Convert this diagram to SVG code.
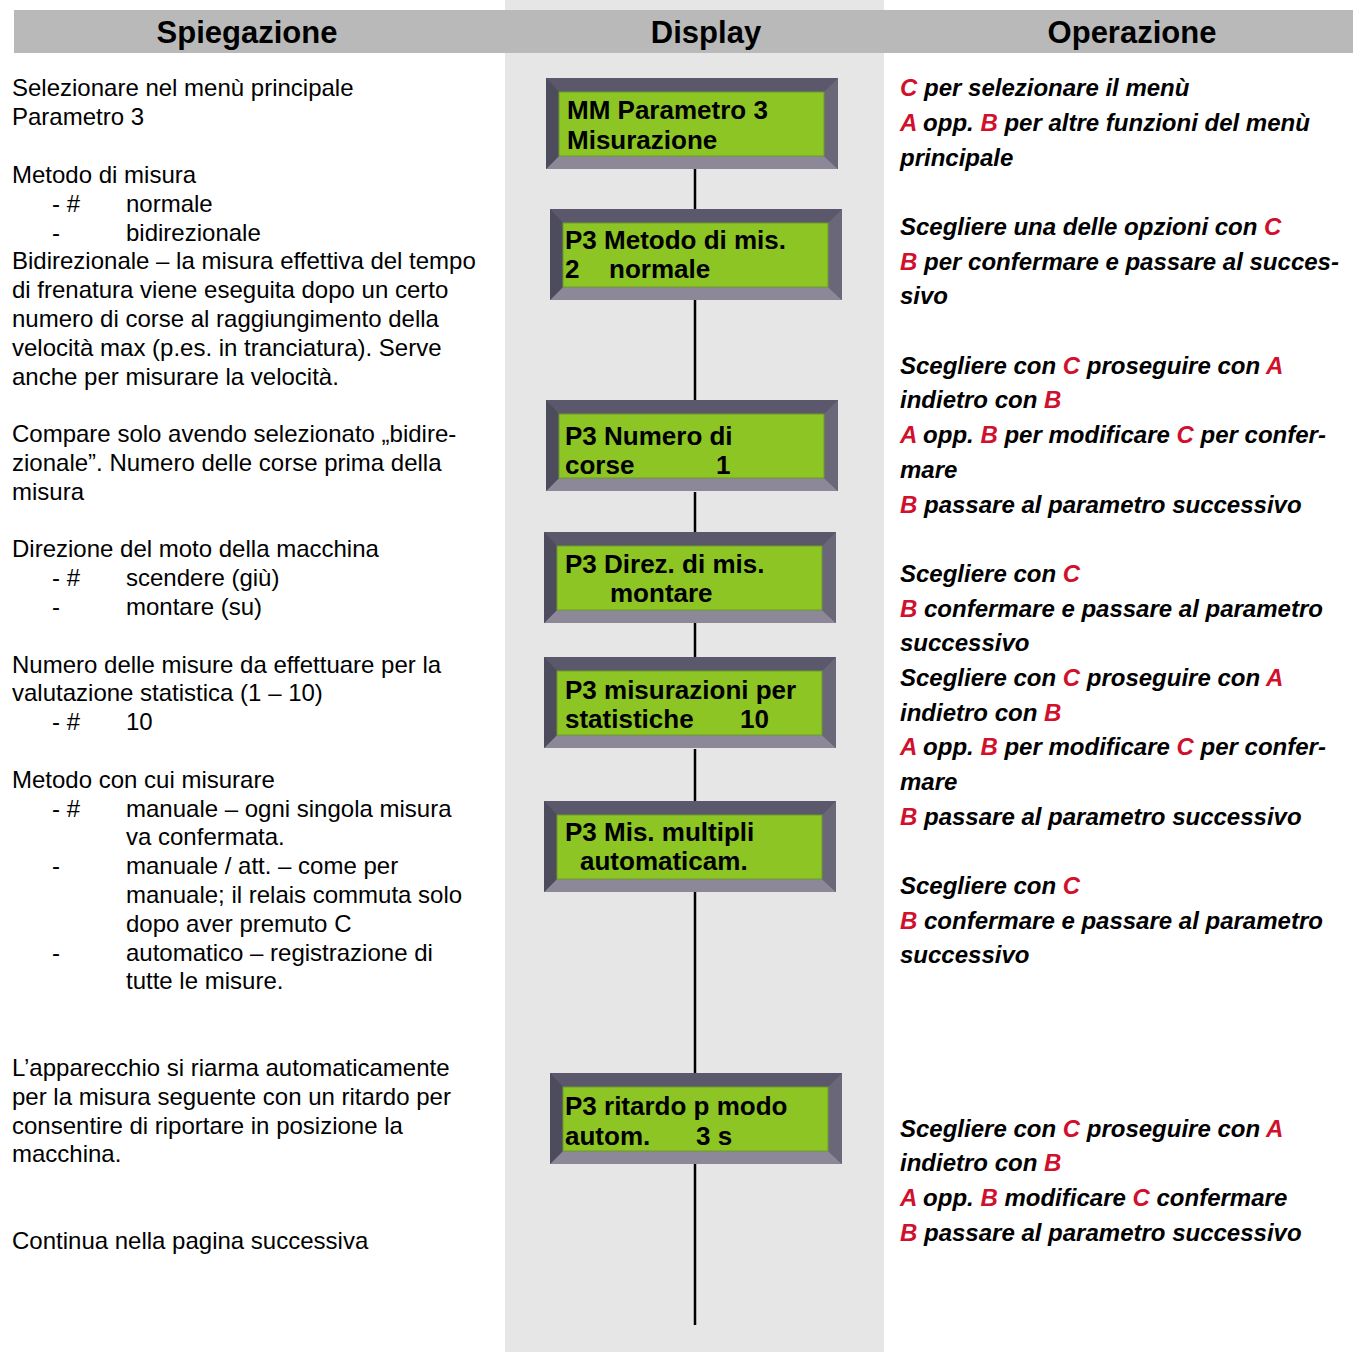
<svg xmlns="http://www.w3.org/2000/svg" xmlns:xlink="http://www.w3.org/1999/xlink" width="1353" height="1352" viewBox="0 0 1353 1352">
<style>
.hd{font-family:"Liberation Sans",Arial,sans-serif;font-weight:bold;font-size:31px;fill:#000;text-anchor:middle}
.l{font-family:"Liberation Sans",Arial,sans-serif;font-size:24px;fill:#000}
.r{font-family:"Liberation Sans",Arial,sans-serif;font-size:24px;font-weight:bold;font-style:italic;fill:#000}
.k{fill:#d0102c}
.d{font-family:"Liberation Sans",Arial,sans-serif;font-size:26px;font-weight:bold;fill:#000}
.cn{stroke:#000;stroke-width:2.5;fill:none}
</style>
<defs>
<g id="lcd">
<rect x="0" y="0" width="292" height="91" fill="#55536a"/>
<polygon points="0,0 292,0 278,14 13,14" fill="#5a586a"/>
<polygon points="0,91 292,91 278,78 13,78" fill="#8d8897"/>
<polygon points="0,0 13,14 13,78 0,91" fill="#4d4c5c"/>
<polygon points="292,0 278,14 278,78 292,91" fill="#6a6778"/>
<rect x="13" y="14" width="265" height="64" fill="#8cc524" stroke="#6f9a2a" stroke-width="1"/>
</g>
</defs>
<rect x="0" y="0" width="1353" height="1352" fill="#fff"/>
<rect x="505" y="0" width="379" height="1352" fill="#e6e6e6"/>
<rect x="14" y="10" width="1339" height="43" fill="#b9b9b9"/>
<text class="hd" x="247" y="43">Spiegazione</text>
<text class="hd" x="706" y="43">Display</text>
<text class="hd" x="1132" y="43">Operazione</text>

<g id="connectors">
<line class="cn" x1="695" y1="169" x2="695" y2="209"/>
<line class="cn" x1="695" y1="300" x2="695" y2="400"/>
<line class="cn" x1="695" y1="492" x2="695" y2="533"/>
<line class="cn" x1="695" y1="623" x2="695" y2="657"/>
<line class="cn" x1="695" y1="749" x2="695" y2="801"/>
<line class="cn" x1="695" y1="892" x2="695" y2="1073"/>
<line class="cn" x1="695" y1="1163" x2="695" y2="1325"/>
</g>

<g id="n1"><use xlink:href="#lcd" x="546" y="78"/>
<text class="d" x="567" y="119">MM Parametro 3</text>
<text class="d" x="567" y="149">Misurazione</text></g>
<g id="n2"><use xlink:href="#lcd" x="550" y="209"/>
<text class="d" x="565" y="249">P3 Metodo di mis.</text>
<text class="d" x="565" y="278">2</text><text class="d" x="609" y="278">normale</text></g>
<g id="n3"><use xlink:href="#lcd" x="546" y="400"/>
<text class="d" x="565" y="445">P3 Numero di</text>
<text class="d" x="565" y="474">corse</text><text class="d" x="716" y="474">1</text></g>
<g id="n4"><use xlink:href="#lcd" x="544" y="532"/>
<text class="d" x="565" y="573">P3 Direz. di mis.</text>
<text class="d" x="610" y="602">montare</text></g>
<g id="n5"><use xlink:href="#lcd" x="544" y="657"/>
<text class="d" x="565" y="699">P3 misurazioni per</text>
<text class="d" x="565" y="728">statistiche</text><text class="d" x="740" y="728">10</text></g>
<g id="n6"><use xlink:href="#lcd" x="544" y="801"/>
<text class="d" x="565" y="841">P3 Mis. multipli</text>
<text class="d" x="580" y="870">automaticam.</text></g>
<g id="n7"><use xlink:href="#lcd" x="550" y="1073"/>
<text class="d" x="565" y="1115">P3 ritardo p modo</text>
<text class="d" x="565" y="1145">autom.</text><text class="d" x="696" y="1145">3 s</text></g>

<g id="spiegazione">
<text class="l" x="12" y="96">Selezionare nel menù principale</text>
<text class="l" x="12" y="125">Parametro 3</text>
<text class="l" x="12" y="183">Metodo di misura</text>
<text class="l" x="52" y="212">- #</text><text class="l" x="126" y="212">normale</text>
<text class="l" x="52" y="241">-</text><text class="l" x="126" y="241">bidirezionale</text>
<text class="l" x="12" y="269">Bidirezionale – la misura effettiva del tempo</text>
<text class="l" x="12" y="298">di frenatura viene eseguita dopo un certo</text>
<text class="l" x="12" y="327">numero di corse al raggiungimento della</text>
<text class="l" x="12" y="356">velocità max (p.es. in tranciatura). Serve</text>
<text class="l" x="12" y="385">anche per misurare la velocità.</text>
<text class="l" x="12" y="442">Compare solo avendo selezionato „bidire-</text>
<text class="l" x="12" y="471">zionale”. Numero delle corse prima della</text>
<text class="l" x="12" y="500">misura</text>
<text class="l" x="12" y="557">Direzione del moto della macchina</text>
<text class="l" x="52" y="586">- #</text><text class="l" x="126" y="586">scendere (giù)</text>
<text class="l" x="52" y="615">-</text><text class="l" x="126" y="615">montare (su)</text>
<text class="l" x="12" y="673">Numero delle misure da effettuare per la</text>
<text class="l" x="12" y="701">valutazione statistica (1 – 10)</text>
<text class="l" x="52" y="730">- #</text><text class="l" x="126" y="730">10</text>
<text class="l" x="12" y="788">Metodo con cui misurare</text>
<text class="l" x="52" y="817">- #</text><text class="l" x="126" y="817">manuale – ogni singola misura</text>
<text class="l" x="126" y="845">va confermata.</text>
<text class="l" x="52" y="874">-</text><text class="l" x="126" y="874">manuale / att. – come per</text>
<text class="l" x="126" y="903">manuale; il relais commuta solo</text>
<text class="l" x="126" y="932">dopo aver premuto C</text>
<text class="l" x="52" y="961">-</text><text class="l" x="126" y="961">automatico – registrazione di</text>
<text class="l" x="126" y="989">tutte le misure.</text>
<text class="l" x="12" y="1076">L’apparecchio si riarma automaticamente</text>
<text class="l" x="12" y="1105">per la misura seguente con un ritardo per</text>
<text class="l" x="12" y="1134">consentire di riportare in posizione la</text>
<text class="l" x="12" y="1162">macchina.</text>
<text class="l" x="12" y="1249">Continua nella pagina successiva</text>
</g>

<g id="operazione">
<text class="r" x="900" y="96"><tspan class="k">C</tspan> per selezionare il menù</text>
<text class="r" x="900" y="131"><tspan class="k">A</tspan> opp. <tspan class="k">B</tspan> per altre funzioni del menù</text>
<text class="r" x="900" y="166">principale</text>
<text class="r" x="900" y="235">Scegliere una delle opzioni con <tspan class="k">C</tspan></text>
<text class="r" x="900" y="270"><tspan class="k">B</tspan> per confermare e passare al succes-</text>
<text class="r" x="900" y="304">sivo</text>
<text class="r" x="900" y="374">Scegliere con <tspan class="k">C</tspan> proseguire con <tspan class="k">A</tspan></text>
<text class="r" x="900" y="408">indietro con <tspan class="k">B</tspan></text>
<text class="r" x="900" y="443"><tspan class="k">A</tspan> opp. <tspan class="k">B</tspan> per modificare <tspan class="k">C</tspan> per confer-</text>
<text class="r" x="900" y="478">mare</text>
<text class="r" x="900" y="513"><tspan class="k">B</tspan> passare al parametro successivo</text>
<text class="r" x="900" y="582">Scegliere con <tspan class="k">C</tspan></text>
<text class="r" x="900" y="617"><tspan class="k">B</tspan> confermare e passare al parametro</text>
<text class="r" x="900" y="651">successivo</text>
<text class="r" x="900" y="686">Scegliere con <tspan class="k">C</tspan> proseguire con <tspan class="k">A</tspan></text>
<text class="r" x="900" y="721">indietro con <tspan class="k">B</tspan></text>
<text class="r" x="900" y="755"><tspan class="k">A</tspan> opp. <tspan class="k">B</tspan> per modificare <tspan class="k">C</tspan> per confer-</text>
<text class="r" x="900" y="790">mare</text>
<text class="r" x="900" y="825"><tspan class="k">B</tspan> passare al parametro successivo</text>
<text class="r" x="900" y="894">Scegliere con <tspan class="k">C</tspan></text>
<text class="r" x="900" y="929"><tspan class="k">B</tspan> confermare e passare al parametro</text>
<text class="r" x="900" y="963">successivo</text>
<text class="r" x="900" y="1137">Scegliere con <tspan class="k">C</tspan> proseguire con <tspan class="k">A</tspan></text>
<text class="r" x="900" y="1171">indietro con <tspan class="k">B</tspan></text>
<text class="r" x="900" y="1206"><tspan class="k">A</tspan> opp. <tspan class="k">B</tspan> modificare <tspan class="k">C</tspan> confermare</text>
<text class="r" x="900" y="1241"><tspan class="k">B</tspan> passare al parametro successivo</text>
</g>
</svg>
